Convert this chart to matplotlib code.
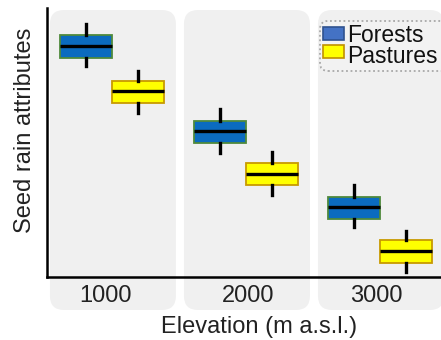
import matplotlib
matplotlib.use("Agg")
import matplotlib.pyplot as plt
from matplotlib.patches import FancyBboxPatch, Rectangle
from matplotlib.transforms import IdentityTransform

plt.rcParams["font.family"] = ["Liberation Sans", "DejaVu Sans"]

# Elevation classes and habitat types
elevations = ["1000", "2000", "3000"]
habitats = ["Forests", "Pastures"]

# Box statistics per elevation (arbitrary attribute units)
forest_whislo = [7.84, 4.61, 1.86]
forest_q1 = [8.14, 4.98, 2.16]
forest_med = [8.59, 5.43, 2.60]
forest_q3 = [9.00, 5.80, 2.97]
forest_whishi = [9.41, 6.25, 3.42]

pasture_whislo = [6.10, 3.05, 0.19]
pasture_q1 = [6.47, 3.42, 0.52]
pasture_med = [6.91, 3.83, 0.97]
pasture_q3 = [7.29, 4.24, 1.38]
pasture_whishi = [7.66, 4.65, 1.71]

W, H = 441, 340
fig = plt.figure(figsize=(W / 100, H / 100), dpi=100)
ax = fig.add_axes([47 / W, 63 / H, (W - 47) / W, 269 / H])
ax.set_facecolor("none")
ax.set_xlim(-0.485, 2.455)
ax.set_ylim(0, 10)

ident = IdentityTransform()

# Rounded grey panels behind each elevation group
r = 14
for i in range(len(elevations)):
    x0 = ax.transData.transform((i - 0.463, 0))[0]
    x1 = ax.transData.transform((i + 0.477, 0))[0]
    y0, y1 = H - 310, H - 10
    panel = FancyBboxPatch((x0 + r, y0 + r), (x1 - x0) - 2 * r, (y1 - y0) - 2 * r,
                           boxstyle=f"round,pad={r}", transform=ident,
                           facecolor="#f0f0f0", edgecolor="none", zorder=-5)
    fig.patches.append(panel)


def stats(lo, q1, med, q3, hi):
    return [dict(whislo=a, q1=b, med=c, q3=d, whishi=e, fliers=[])
            for a, b, c, d, e in zip(lo, q1, med, q3, hi)]


offset, width = 0.194, 0.395
groups = [
    (stats(forest_whislo, forest_q1, forest_med, forest_q3, forest_whishi),
     -offset, "#0b6bbf", "#4f8a3c"),
    (stats(pasture_whislo, pasture_q1, pasture_med, pasture_q3, pasture_whishi),
     offset, "#ffff00", "#c89a00"),
]
for st, off, fc, ec in groups:
    ax.bxp(st, positions=[i + off for i in range(len(st))], widths=width,
           patch_artist=True, showcaps=False, showfliers=False,
           boxprops=dict(facecolor=fc, edgecolor=ec, linewidth=1.3),
           medianprops=dict(color="black", linewidth=2.4),
           whiskerprops=dict(color="black", linewidth=2.4),
           manage_ticks=False)

# Tick labels sit slightly off the group centres
label_shift = [-0.052, 0.019, -0.026]
ax.set_xticks([i + d for i, d in enumerate(label_shift)], elevations,
              fontsize=17, color="#222222")
ax.set_yticks([])
ax.tick_params(axis="x", length=0, pad=6)
for s in ["top", "right"]:
    ax.spines[s].set_visible(False)
for s in ["left", "bottom"]:
    ax.spines[s].set_linewidth(1.8)
    ax.spines[s].set_color("black")

fig.text(259.5 / W, 1 - 327 / H, "Elevation (m a.s.l.)", fontsize=17,
         ha="center", va="center", color="#222222")
fig.text(25 / W, 1 - 130 / H, "Seed rain attributes", fontsize=17,
         rotation=90, ha="center", va="center", color="#222222")

# Legend: dotted rounded frame, colour keys and a two-line label block
lx0, ly0, lx1, ly1 = 320, 21, 475, 71
lr = 8
frame = FancyBboxPatch((lx0 + lr, H - ly1 + lr), (lx1 - lx0) - 2 * lr, (ly1 - ly0) - 2 * lr,
                       boxstyle=f"round,pad={lr}", transform=ident,
                       facecolor="#f2f2f2", edgecolor="#a8a8a8",
                       linestyle=(0, (1, 1.5)), linewidth=1.3, zorder=5)
fig.patches.append(frame)
legend_colors = [("#4472c4", "#2f528f"), ("#ffff00", "#c09000")]
key_tops = [27, 45]
for (fc, ec), ptop in zip(legend_colors, key_tops):
    fig.patches.append(Rectangle((323, H - ptop - 13), 21, 13, transform=ident,
                                 facecolor=fc, edgecolor=ec, linewidth=1.2, zorder=6))
fig.text(347 / W, 1 - 24 / H, "\n".join(habitats), fontsize=16.5, ha="left",
         va="top", linespacing=0.88, color="#111111", zorder=7)

fig.savefig("out.png", dpi=100)
